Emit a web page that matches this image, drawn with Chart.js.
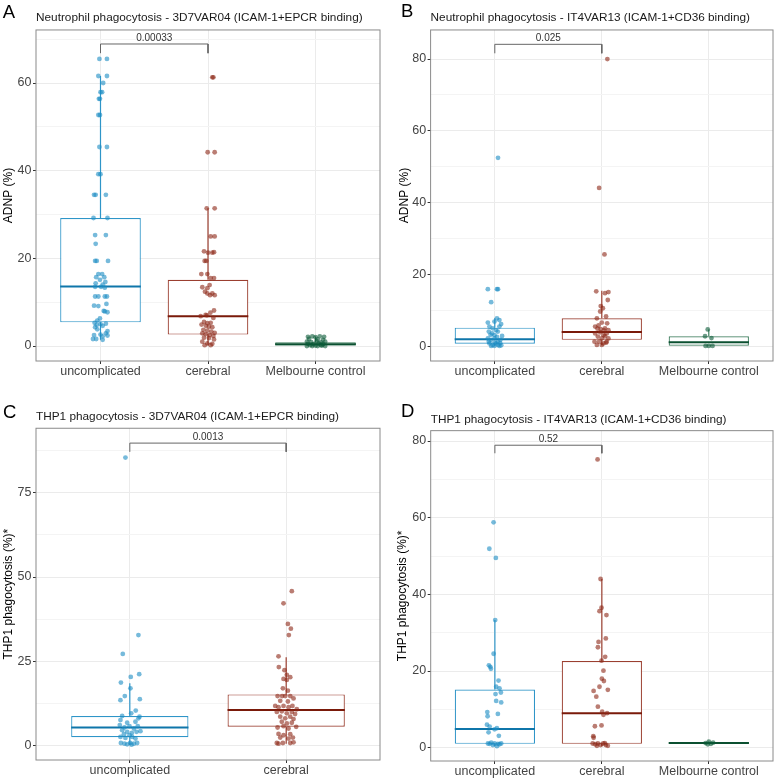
<!DOCTYPE html>
<html>
<head>
<meta charset="utf-8">
<script src="https://cdn.jsdelivr.net/npm/chart.js@4.4.1/dist/chart.umd.min.js"></script>
<style>
  html, body { margin: 0; padding: 0; background: #fff; }
  #wrap { position: relative; width: 777px; height: 779px; overflow: hidden; }
  .panel { position: absolute; }
</style>
</head>
<body>
<div id="wrap">
  <div class="panel" style="left:0;top:0;width:388px;height:389px"><canvas id="chartA"></canvas></div>
  <div class="panel" style="left:388px;top:0;width:389px;height:389px"><canvas id="chartB"></canvas></div>
  <div class="panel" style="left:0;top:389px;width:388px;height:390px"><canvas id="chartC"></canvas></div>
  <div class="panel" style="left:388px;top:389px;width:389px;height:390px"><canvas id="chartD"></canvas></div>
</div>
<script>
// ---- data ----
const cats3 = ['uncomplicated', 'cerebral', 'Melbourne control'];
const cats2 = ['uncomplicated', 'cerebral'];

const titles = [
    'Neutrophil phagocytosis - 3D7VAR04 (ICAM-1+EPCR binding)',
    'Neutrophil phagocytosis - IT4VAR13 (ICAM-1+CD36 binding)',
    'THP1 phagocytosis - 3D7VAR04 (ICAM-1+EPCR binding)',
    'THP1 phagocytosis - IT4VAR13 (ICAM-1+CD36 binding)'
];
const yTitles = ['ADNP (%)', 'ADNP (%)', 'THP1 phagocytosis (%)*', 'THP1 phagocytosis (%)*'];
const letters = ['A', 'B', 'C', 'D'];
const pValues = ['0.00033', '0.025', '0.0013', '0.52'];
const bracketTops = [68.9, 84.1, 89.7, 78.9];
const bracketFeet = [66.8, 81.6, 87.1, 76.8];

// Panel A
const aUncValues = [65.5,65.5,61.6,61.6,60.0,57.9,57.9,56.4,56.4,52.7,52.7,45.4,45.4,39.2,39.2,34.5,34.5,34.5,29.2,29.2,25.3,25.3,23.3,19.4,19.4,19.4,16.4,16.4,15.7,15.7,15.1,14.6,14.3,14.0,13.5,13.5,13.3,11.3,11.3,11.3,11.3,9.2,9.1,9.6,7.9,7.7,8.0,6.3,5.8,5.3,4.8,5.0,4.6,5.1,4.3,3.8,3.4,2.9,2.5,2.6,2.4,2.2,1.6,1.6,1.4];
const aUncJitter = [-0.01,0.06,-0.02,0.06,0.025,0.0,0.015,-0.015,-0.005,-0.02,-0.005,-0.01,0.06,-0.02,0.0,-0.06,-0.045,0.05,-0.065,0.065,-0.05,0.05,-0.045,-0.05,-0.035,0.07,-0.02,0.015,-0.04,0.035,-0.005,0.045,-0.045,0.02,-0.05,0.005,0.04,-0.05,-0.02,0.04,0.06,-0.06,-0.02,0.055,0.04,0.065,0.03,-0.005,-0.03,-0.055,-0.035,0.0,0.02,0.05,-0.05,-0.03,0.065,0.05,-0.06,0.0,0.065,0.02,-0.07,-0.04,0.02];
const aCerValues = [61.3,61.3,44.2,44.2,31.4,31.4,25.0,25.0,21.6,21.3,21.3,21.4,19.4,19.4,16.4,16.4,15.5,15.5,13.9,13.4,13.2,12.4,12.0,12.0,11.6,11.6,8.1,7.6,7.1,6.8,7.0,6.4,5.5,5.2,5.3,4.9,4.6,4.4,4.3,3.7,3.5,3.3,3.0,2.9,2.7,2.5,2.3,1.9,1.8,1.5,1.0,0.6,0.5,0.2,0.2];
const aCerJitter = [0.04,0.05,-0.003,0.062,-0.012,0.062,0.025,0.062,-0.037,0.0,0.04,0.056,-0.031,-0.016,-0.062,-0.006,0.025,0.056,0.015,-0.053,-0.006,-0.028,-0.006,0.04,0.062,0.019,0.056,0.022,-0.022,-0.068,-0.01,0.05,-0.037,-0.006,0.025,-0.06,-0.019,0.009,0.04,-0.043,-0.006,0.031,0.062,-0.053,-0.022,0.016,0.05,-0.037,0.009,0.056,-0.053,-0.006,0.04,-0.031,0.025];
const aMelValues = [2.1,2.2,2.0,2.2,2.1,1.6,1.5,1.4,1.0,0.9,1.1,0.8,1.0,0.5,0.4,0.6,0.4,0.2,0.1,0.2,0.0,0.0,0.0,0.1,0.0];
const aMelJitter = [-0.07,-0.03,0.0,0.04,0.08,-0.06,0.02,0.07,-0.08,-0.04,0.01,0.05,0.09,-0.07,-0.02,0.03,0.07,-0.05,0.0,0.05,-0.08,-0.03,0.02,0.06,0.09];
const aQ1 = [5.4, 2.6, 0.0];
const aMedian = [13.6, 6.8, 0.4];
const aQ3 = [29.2, 15.1, 0.85];
const aLow = [1.4, 0.2, 0.0];
const aHigh = [61.6, 31.4, 2.2];
const aYTicks = [0, 10, 20, 30, 40, 50, 60, 70];
const aYTickLabels = ['0', '', '20', '', '40', '', '60', ''];

// Panel B
const bUncValues = [52.5,15.9,15.9,15.9,12.3,6.6,7.8,7.3,6.2,6.9,5.5,5.0,4.5,5.5,4.1,3.6,3.1,4.1,2.9,2.2,1.8,2.2,1.3,1.8,0.8,0.4,0.8,0.1,0.1,0.1,0.4,0.3,1.3,1.0,2.6,3.2,0.9];
const bUncJitter = [0.03,-0.065,0.02,0.03,-0.034,-0.065,0.02,0.043,0.059,-0.003,-0.05,-0.02,0.012,0.043,-0.056,-0.025,-0.003,0.028,0.068,-0.065,-0.034,-0.003,0.028,0.052,-0.05,-0.02,0.012,0.043,-0.034,-0.003,0.03,0.06,-0.056,0.0,0.02,-0.04,0.05];
const bCerValues = [80.0,44.1,25.6,15.3,14.8,15.1,12.9,11.2,10.6,9.7,8.3,7.8,6.6,5.5,5.8,5.0,4.5,3.6,3.9,3.1,3.6,2.7,2.2,2.8,2.2,1.3,1.3,0.8,1.3,0.4,0.4,4.8,4.4,4.9,6.4,1.0];
const bCerJitter = [0.052,-0.025,0.025,-0.052,0.03,0.062,0.056,-0.01,0.01,-0.015,0.04,-0.046,0.0,-0.062,-0.03,0.03,0.062,-0.062,-0.015,0.015,0.046,-0.037,0.0,0.03,0.062,-0.068,-0.025,0.015,0.046,-0.046,0.0,-0.01,0.02,-0.04,0.05,0.04];
const bMelValues = [4.7, 2.8, 2.3, 0.1, 0.1, 0.1];
const bMelJitter = [-0.01, -0.035, 0.025, -0.03, 0.0, 0.035];
const bQ1 = [0.7, 1.8, 0.0];
const bMedian = [2.0, 4.0, 1.1];
const bQ3 = [5.2, 7.8, 2.8];
const bLow = [0.0, 0.3, 0.0];
const bHigh = [7.8, 15.5, 4.7];
const bYTicks = [0, 10, 20, 30, 40, 50, 60, 70, 80];
const bYTickLabels = ['0', '', '20', '', '40', '', '60', '', '80'];

// Panel C
const cUncValues = [85.4,32.8,27.2,20.4,21.2,18.7,17.0,14.7,13.5,13.8,10.4,9.6,8.8,8.6,7.6,8.1,6.8,7.1,6.1,5.4,5.8,5.1,5.8,4.6,4.1,3.8,4.1,4.3,3.4,3.1,2.6,2.3,2.6,2.1,0.8,0.6,0.4,0.8,0.6,0.8,0.3];
const cUncJitter = [-0.028,0.055,-0.045,0.006,0.06,-0.057,0.004,-0.032,-0.06,0.064,0.038,0.009,-0.049,0.062,-0.06,0.055,-0.017,0.036,-0.064,-0.034,-0.002,0.026,0.051,-0.049,-0.017,0.013,0.043,0.068,-0.038,-0.002,-0.06,-0.028,0.015,0.036,-0.057,-0.034,-0.017,0.002,0.026,0.047,0.011];
const cCerValues = [45.8,42.2,36.1,34.7,32.8,26.5,23.3,22.4,21.0,20.3,19.8,19.5,17.0,16.3,14.7,14.7,14.7,14.7,14.0,13.3,13.1,11.8,11.4,11.8,11.4,11.8,10.8,10.0,10.2,9.6,10.0,9.4,8.6,8.1,8.6,7.9,7.1,6.6,6.8,5.4,5.8,5.1,5.6,3.5,3.1,3.4,2.4,2.1,2.4,0.8,0.6,0.8,0.8,1.0];
const cCerJitter = [0.036,-0.017,0.011,0.03,0.017,-0.049,-0.047,-0.011,0.004,0.026,-0.017,0.004,-0.021,0.011,-0.055,-0.026,-0.006,0.026,0.047,-0.038,0.011,-0.07,-0.049,-0.017,0.015,0.04,0.068,-0.06,-0.028,0.004,0.036,0.057,-0.038,-0.006,0.026,0.047,-0.028,0.004,0.036,-0.055,-0.017,0.015,0.064,-0.049,-0.017,0.026,-0.038,0.015,0.043,-0.06,-0.049,-0.021,0.026,0.047];
const cQ1 = [2.5, 5.6];
const cMedian = [5.4, 10.6];
const cQ3 = [8.8, 15.2];
const cLow = [0.3, 0.6];
const cHigh = [18.5, 26.2];
const cYTicks = [0, 12.5, 25, 37.5, 50, 62.5, 75, 87.5];
const cYTickLabels = ['0', '', '25', '', '50', '', '75', ''];

// Panel D
const dUncValues = [58.8,51.9,49.5,33.3,24.5,21.5,21.1,20.6,17.5,15.9,15.5,14.4,14.0,11.8,12.2,9.3,8.2,8.8,6.0,5.5,4.8,5.1,4.0,3.1,1.1,1.3,1.1,1.0,1.1,0.7,0.4,1.0,0.9];
const dUncJitter = [-0.012,-0.052,0.009,0.003,-0.012,-0.056,-0.043,-0.037,0.034,0.012,0.043,0.056,0.006,0.059,0.012,-0.071,-0.068,0.028,-0.074,-0.049,-0.003,0.019,-0.059,0.037,-0.065,-0.034,-0.003,0.028,0.059,-0.019,0.019,-0.049,0.043];
const dCerValues = [75.2,44.0,35.6,36.5,34.6,28.5,27.6,26.2,23.7,22.7,20.1,18.0,17.4,15.1,14.8,15.9,13.3,10.7,9.4,8.6,9.0,5.6,5.8,3.0,2.6,1.1,0.9,1.1,0.7,1.1,0.7,0.5,1.2,0.5];
const dCerJitter = [-0.04,-0.012,-0.022,-0.003,0.043,0.037,-0.031,-0.037,0.031,-0.003,0.015,0.0,0.019,0.056,-0.077,-0.022,-0.052,-0.037,0.003,0.015,0.049,-0.065,-0.003,-0.08,-0.077,-0.086,-0.062,-0.037,-0.012,0.012,0.037,0.056,0.028,-0.046];
const dMelValues = [1.2, 1.6, 1.0, 1.3, 0.9];
const dMelJitter = [-0.03, 0.0, 0.02, 0.04, -0.01];
const dQ1 = [1.0, 1.0, 1.0];
const dMedian = [4.9, 9.0, 1.2];
const dQ3 = [15.2, 22.6, 1.45];
const dLow = [0.4, 0.4, 0.9];
const dHigh = [33.3, 44.0, 1.6];
const dYTicks = [0, 10, 20, 30, 40, 50, 60, 70, 80];
const dYTickLabels = ['0', '', '20', '', '40', '', '60', '', '80'];

// ---- styling ----
const FONT = '"Liberation Sans", Arial, Helvetica, sans-serif';
Chart.defaults.font.family = FONT;
Chart.defaults.color = '#444';

const groupStyles = [
    { box: '#2e95c8', median: '#0f76aa', point: 'rgba(26,140,195,0.6)' },
    { box: '#9b3f30', median: '#7a1a0a', point: 'rgba(140,38,22,0.6)' },
    { box: '#3f7f5f', median: '#0b5030', point: 'rgba(10,90,55,0.6)' }
];
const HALF_BOX = 0.375;  // ggplot default box width 0.75

// frame, panel letter and p-value label
const panelDecor = {
    id: 'panelDecor',
    afterDraw(chart, args, opts) {
        const { ctx, chartArea: a, scales: { x, y } } = chart;
        ctx.save();
        ctx.strokeStyle = '#8a8a8a';
        ctx.lineWidth = 1;
        ctx.strokeRect(a.left, a.top, a.right - a.left, a.bottom - a.top);

        ctx.fillStyle = '#333';
        ctx.font = '10px ' + FONT;
        ctx.textAlign = 'center';
        ctx.textBaseline = 'middle';
        ctx.fillText(opts.pValue, x.getPixelForValue(1.5), y.getPixelForValue(opts.bracketTop) - 6);

        ctx.fillStyle = '#000';
        ctx.font = '18.5px ' + FONT;
        ctx.textAlign = 'left';
        ctx.textBaseline = 'alphabetic';
        ctx.fillText(opts.letter, opts.letterX, opts.letterY);
        ctx.restore();
    }
};

function makePanel(canvasId, p) {
    const datasets = [];
    p.cats.forEach((cat, g) => {
        const st = groupStyles[g];
        const xc = g + 1;
        // whiskers
        datasets.push({
            type: 'line',
            data: [{ x: xc, y: p.low[g] }, { x: xc, y: p.q1[g] }, { x: xc, y: null },
                   { x: xc, y: p.q3[g] }, { x: xc, y: p.high[g] }],
            borderColor: st.box, borderWidth: 1.2, pointRadius: 0, spanGaps: false, order: 4
        });
        // median
        datasets.push({
            type: 'line',
            data: [{ x: xc - HALF_BOX, y: p.median[g] }, { x: xc + HALF_BOX, y: p.median[g] }],
            borderColor: st.median, borderWidth: 2, pointRadius: 0, order: 2
        });
        // jittered points
        datasets.push({
            type: 'scatter',
            data: p.values[g].map((v, i) => ({ x: xc + (p.jitter[g][i] || 0), y: v })),
            backgroundColor: st.point, borderWidth: 0, pointRadius: 2.4, order: 1
        });
    });
    // boxes
    datasets.push({
        type: 'bar',
        data: p.cats.map((c, g) => ({ x: g + 1, y: [p.q1[g], p.q3[g]] })),
        backgroundColor: '#ffffff',
        borderColor: p.cats.map((c, g) => groupStyles[g].box),
        borderWidth: 1.2, borderSkipped: false,
        barPercentage: 0.75, categoryPercentage: 1, grouped: false, order: 3
    });
    // significance bracket
    datasets.push({
        type: 'line',
        data: [{ x: 1, y: p.bracketFoot }, { x: 1, y: p.bracketTop },
               { x: 2, y: p.bracketTop }, { x: 2, y: p.bracketFoot }],
        borderColor: '#666', borderWidth: 1, pointRadius: 0, order: 0
    });

    return new Chart(document.getElementById(canvasId), {
        type: 'scatter',
        data: { datasets },
        plugins: [panelDecor],
        options: {
            responsive: true,
            maintainAspectRatio: false,
            animation: false,
            events: [],
            layout: { padding: { left: 0, top: 0, right: p.padRight, bottom: 0 } },
            plugins: {
                legend: { display: false },
                tooltip: { enabled: false },
                title: {
                    display: true, text: p.title, align: 'start', fullSize: false,
                    color: '#1a1a1a', font: { size: 11.8, weight: 'normal' },
                    padding: { top: p.titlePadTop, bottom: p.titlePadBottom }
                },
                panelDecor: {
                    pValue: p.pValue, bracketTop: p.bracketTop,
                    letter: p.letter, letterX: p.letterX, letterY: p.letterY
                }
            },
            scales: {
                x: {
                    type: 'linear', min: 0.4, max: p.cats.length + 0.6, offset: false,
                    afterBuildTicks: s => { s.ticks = p.cats.map((c, i) => ({ value: i + 1 })); },
                    afterFit: s => { s.height = p.xAxisHeight; },
                    ticks: {
                        callback: (v, i) => p.cats[i],
                        font: { size: 12.5 }, color: '#444', padding: 0,
                        maxRotation: 0, autoSkip: false
                    },
                    grid: { color: '#ebebeb', lineWidth: 1, tickLength: 3, tickColor: '#333', offset: false },
                    border: { display: false }
                },
                y: {
                    type: 'linear', min: p.yMin, max: p.yMax,
                    afterBuildTicks: s => { s.ticks = p.yTicks.map(v => ({ value: v })); },
                    afterFit: s => { s.width = p.yAxisWidth; },
                    ticks: {
                        callback: (v, i) => p.yTickLabels[i],
                        font: { size: 12.5 }, color: '#444', padding: 1.5, autoSkip: false
                    },
                    grid: {
                        color: c => p.yTickLabels[c.index] ? '#ebebeb' : '#f4f4f4',
                        tickColor: c => p.yTickLabels[c.index] ? '#333' : 'rgba(0,0,0,0)',
                        lineWidth: 1, tickLength: 3
                    },
                    border: { display: false },
                    title: {
                        display: true, text: p.yTitle, color: '#000',
                        font: { size: 12 }, padding: { top: p.yTitlePad, bottom: 0 }
                    }
                }
            }
        }
    });
}

makePanel('chartA', {
    cats: cats3, title: titles[0], yTitle: yTitles[0], letter: letters[0],
    values: [aUncValues, aCerValues, aMelValues], jitter: [aUncJitter, aCerJitter, aMelJitter],
    q1: aQ1, median: aMedian, q3: aQ3, low: aLow, high: aHigh,
    yTicks: aYTicks, yTickLabels: aYTickLabels, yMin: -3.42, yMax: 72.1,
    pValue: pValues[0], bracketTop: bracketTops[0], bracketFoot: bracketFeet[0],
    padRight: 8, yAxisWidth: 36, xAxisHeight: 28, titlePadTop: 10.4, titlePadBottom: 5.4,
    yTitlePad: 1.4, letterX: 2.7, letterY: 18.3
});
makePanel('chartB', {
    cats: cats3, title: titles[1], yTitle: yTitles[1], letter: letters[1],
    values: [bUncValues, bCerValues, bMelValues], jitter: [bUncJitter, bCerJitter, bMelJitter],
    q1: bQ1, median: bMedian, q3: bQ3, low: bLow, high: bHigh,
    yTicks: bYTicks, yTickLabels: bYTickLabels, yMin: -4.09, yMax: 88.1,
    pValue: pValues[1], bracketTop: bracketTops[1], bracketFoot: bracketFeet[1],
    padRight: 1, yAxisWidth: 42.6, xAxisHeight: 28, titlePadTop: 10.4, titlePadBottom: 5.4,
    yTitlePad: 9, letterX: 13, letterY: 17
});
makePanel('chartC', {
    cats: cats2, title: titles[2], yTitle: yTitles[2], letter: letters[2],
    values: [cUncValues, cCerValues], jitter: [cUncJitter, cCerJitter],
    q1: cQ1, median: cMedian, q3: cQ3, low: cLow, high: cHigh,
    yTicks: cYTicks, yTickLabels: cYTickLabels, yMin: -4.24, yMax: 94.1,
    pValue: pValues[2], bracketTop: bracketTops[2], bracketFoot: bracketFeet[2],
    padRight: 8, yAxisWidth: 36, xAxisHeight: 19, titlePadTop: 20.9, titlePadBottom: 4.2,
    yTitlePad: 1.1, letterX: 3, letterY: 29.3
});
makePanel('chartD', {
    cats: cats3, title: titles[3], yTitle: yTitles[3], letter: letters[3],
    values: [dUncValues, dCerValues, dMelValues], jitter: [dUncJitter, dCerJitter, dMelJitter],
    q1: dQ1, median: dMedian, q3: dQ3, low: dLow, high: dHigh,
    yTicks: dYTicks, yTickLabels: dYTickLabels, yMin: -3.47, yMax: 82.7,
    pValue: pValues[3], bracketTop: bracketTops[3], bracketFoot: bracketFeet[3],
    padRight: 1, yAxisWidth: 42.7, xAxisHeight: 18, titlePadTop: 23.4, titlePadBottom: 4.1,
    yTitlePad: 7.8, letterX: 13, letterY: 28
});
</script>
</body>
</html>
